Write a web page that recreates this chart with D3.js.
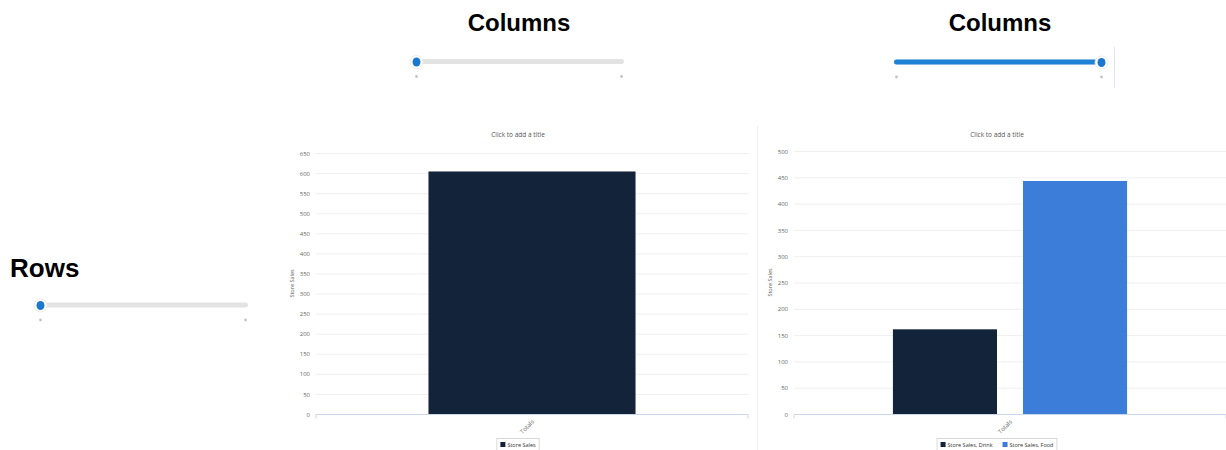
<!DOCTYPE html>
<meta charset="utf-8">
<style>
body { margin: 0; background: #fff; }
.heading { font: bold 24px "Liberation Sans", Arial, sans-serif; fill: #000; }
.ctitle { font: 6.5px "Open Sans", sans-serif; fill: #555; }
.axis text { font: 6px "Open Sans", sans-serif; fill: #666; }
.legend text { font: 5.5px "Open Sans", sans-serif; fill: #333; }
</style>
<body>
<script src="https://d3js.org/d3.v7.min.js"></script>
<script>

// data
var categories = ["Totals"];
var leftSeries = ["Store Sales"];
var leftValues = [604];
var rightSeries = ["Store Sales, Drink", "Store Sales, Food"];
var rightValues = [161, 443];
var seriesColors = ["#12233a", "#3b7dd8"];

var svg = d3.select("body").append("svg")
    .attr("width", 1226)
    .attr("height", 450);

// headings
svg.append("text").attr("class", "heading").attr("x", 519).attr("y", 31)
    .attr("text-anchor", "middle").text("Columns");
svg.append("text").attr("class", "heading").attr("x", 1000).attr("y", 31)
    .attr("text-anchor", "middle").text("Columns");
svg.append("text").attr("class", "heading").attr("x", 10).attr("y", 277)
    .style("font-size", "26px").text("Rows");

// sliders
function slider(x0, x1, y, pos) {
  var g = svg.append("g");
  g.append("line").attr("x1", x0).attr("x2", x1).attr("y1", y).attr("y2", y)
      .attr("stroke", "#e3e3e3").attr("stroke-width", 5).attr("stroke-linecap", "round");
  var kx = x0 + (x1 - x0) * pos;
  if (pos > 0) {
    g.append("line").attr("x1", x0).attr("x2", kx).attr("y1", y).attr("y2", y)
        .attr("stroke", "#1e82d6").attr("stroke-width", 5).attr("stroke-linecap", "round");
  }
  [x0, x1].forEach(function(dx) {
    g.append("circle").attr("cx", dx).attr("cy", y + 15).attr("r", 1.4).attr("fill", "#c4c4c4");
  });
  g.append("circle").attr("cx", kx).attr("cy", y + 0.5).attr("r", 6.5)
      .attr("fill", "#fff").attr("stroke", "#e6e6e6").attr("stroke-width", 0.8);
  g.append("ellipse").attr("cx", kx).attr("cy", y + 0.5).attr("rx", 4).attr("ry", 4.5)
      .attr("fill", "#1a78cf");
}
slider(416.5, 621.5, 61.5, 0);
slider(896.5, 1101.5, 62, 1);
slider(40.5, 245.5, 305, 0);

svg.append("line").attr("x1", 1114.5).attr("x2", 1114.5).attr("y1", 47).attr("y2", 88)
    .attr("stroke", "#dde4ec");
svg.append("line").attr("x1", 757.5).attr("x2", 757.5).attr("y1", 126).attr("y2", 450)
    .attr("stroke", "#f0f0f0");

function drawChart(cfg) {
  var g = svg.append("g");

  var y = d3.scaleLinear().domain([0, cfg.max]).range([414, cfg.top]);
  var x = d3.scaleBand().domain(categories).range([cfg.left, cfg.right])
      .paddingInner(cfg.pad).paddingOuter(cfg.pad);
  var xs = d3.scaleBand().domain(cfg.series).range([0, x.bandwidth()])
      .paddingInner(cfg.series.length > 1 ? 0.2 : 0);

  // title
  g.append("text").attr("class", "ctitle").attr("x", cfg.center).attr("y", 137)
      .attr("text-anchor", "middle").text("Click to add a title");

  // grid + y labels
  var yAxis = g.append("g").attr("class", "axis")
      .attr("transform", "translate(" + cfg.left + ",0)")
      .call(d3.axisLeft(y).tickValues(d3.range(0, cfg.max + 1, 50))
          .tickSize(-(cfg.right - cfg.left)).tickPadding(6).tickFormat(d3.format("d")));
  yAxis.select(".domain").remove();
  yAxis.selectAll(".tick line").attr("stroke", "#efefef");
  yAxis.selectAll(".tick text").attr("dy", "0.35em");

  // y axis title
  g.append("text").attr("class", "ctitle")
      .attr("transform", "translate(" + cfg.ytitleX + "," + ((414 + cfg.top) / 2) + ") rotate(-90)")
      .attr("text-anchor", "middle").style("font-size", "5.5px").attr("fill", "#666")
      .text("Store Sales");

  // bars
  categories.forEach(function(c) {
    cfg.series.forEach(function(s, i) {
      g.append("rect")
          .attr("x", x(c) + xs(s))
          .attr("y", y(cfg.values[i]))
          .attr("width", xs.bandwidth())
          .attr("height", y(0) - y(cfg.values[i]))
          .attr("fill", cfg.colors[i]);
    });
  });

  // x axis
  var xAxis = g.append("g").attr("class", "axis")
      .attr("transform", "translate(0,414.5)")
      .call(d3.axisBottom(x).tickSize(0).tickPadding(6));
  xAxis.select(".domain").attr("stroke", "#ccd6eb")
      .attr("d", "M" + cfg.left + ",4V0H" + cfg.right + "V4");
  xAxis.selectAll(".tick text")
      .style("text-anchor", "end")
      .attr("dx", "0.3em")
      .attr("dy", "0.6em")
      .attr("transform", "rotate(-45,0,8)");

  // legend
  var lg = g.append("g").attr("class", "legend");
  var items = lg.selectAll("g").data(cfg.series).enter().append("g");
  var xoff = 0;
  items.each(function(d, i) {
    var it = d3.select(this);
    it.append("rect").attr("x", 0).attr("y", -5).attr("width", 5).attr("height", 5)
        .attr("fill", cfg.colors[i]);
    var t = it.append("text").attr("x", 7).attr("y", 0).text(d);
    var w = 7 + t.node().getComputedTextLength();
    it.attr("transform", "translate(" + xoff + ",0)");
    xoff += w + 10;
  });
  var total = xoff - 10;
  var lx = cfg.center - total / 2;
  lg.attr("transform", "translate(" + lx + ",447)");
  lg.insert("rect", ":first-child")
      .attr("x", -3.5).attr("y", -8.5).attr("width", total + 7).attr("height", 14)
      .attr("fill", "#fff").attr("stroke", "#cfcfcf").attr("stroke-width", 0.8);
}

drawChart({
  left: 316, right: 748, top: 153, max: 650, pad: 0.352, center: 518, ytitleX: 294,
  series: leftSeries, values: leftValues, colors: seriesColors
});
drawChart({
  left: 794, right: 1226, top: 151, max: 500, pad: 0.297, center: 997, ytitleX: 772,
  series: rightSeries, values: rightValues, colors: seriesColors
});

</script>
</body>
